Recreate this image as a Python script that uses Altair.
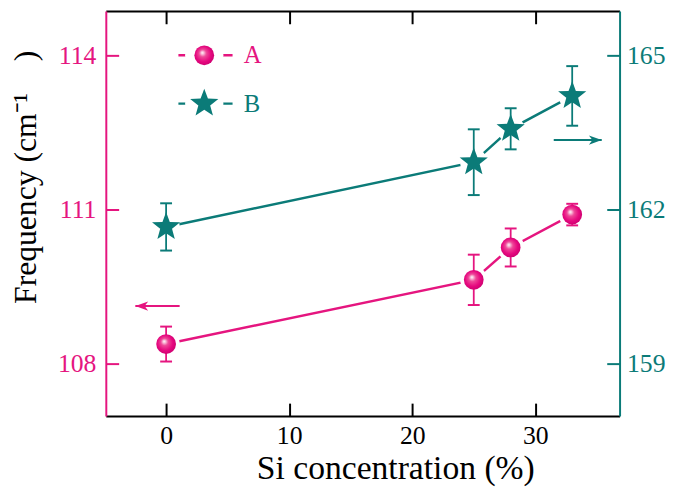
import math
import altair as alt
import pandas as pd

PINK = "#E5157F"
TEAL = "#0B7B78"
FONT = "Liberation Serif"

# ---------------- data ----------------
si = [0, 25, 28, 33]
freq_a = [108.38, 109.63, 110.26, 110.90]
err_a = [0.34, 0.49, 0.37, 0.21]
freq_b = [161.66, 162.92, 163.57, 164.21]
err_b = [0.46, 0.64, 0.40, 0.58]

x_ticks = [0, 10, 20, 30]
ya_ticks = [108, 111, 114]
yb_ticks = [159, 162, 165]
x_domain = [-4.9, 36.85]
ya_domain = [106.98, 114.865]
yb_domain = [157.98, 165.865]

legend_labels = ["A", "B"]
legend_line_x = [1.0, 5.4]
legend_marker_x = 3.1
legend_text_x = 6.3
legend_y_a = 114.0
legend_y_b = 164.06

arrow_a_x = [1.1, -2.5]   # tail, tip
arrow_a_y = 109.12
arrow_b_x = [31.5, 35.4]  # tail, tip
arrow_b_y = 163.35

W, H = 520, 410

# ---------------- frames ----------------
dfA = pd.DataFrame({"x": si, "y": freq_a,
                    "lo": [v - e for v, e in zip(freq_a, err_a)],
                    "hi": [v + e for v, e in zip(freq_a, err_a)]})
dfB = pd.DataFrame({"x": si, "y": freq_b,
                    "lo": [v - e for v, e in zip(freq_b, err_b)],
                    "hi": [v + e for v, e in zip(freq_b, err_b)]})
capsA = pd.DataFrame({"x": si + si, "y": list(dfA["lo"]) + list(dfA["hi"])})
capsB = pd.DataFrame({"x": si + si, "y": list(dfB["lo"]) + list(dfB["hi"])})

legA_marker = pd.DataFrame({"x": [legend_marker_x], "y": [legend_y_a]})
legB_marker = pd.DataFrame({"x": [legend_marker_x], "y": [legend_y_b]})
legA_line = pd.DataFrame({"x": [legend_line_x[0]], "x2": [legend_line_x[1]], "y": [legend_y_a]})
legB_line = pd.DataFrame({"x": [legend_line_x[0]], "x2": [legend_line_x[1]], "y": [legend_y_b]})
legA_text = pd.DataFrame({"x": [legend_text_x], "y": [legend_y_a], "label": [legend_labels[0]]})
legB_text = pd.DataFrame({"x": [legend_text_x], "y": [legend_y_b], "label": [legend_labels[1]]})

arrA_line = pd.DataFrame({"x": [arrow_a_x[0]], "x2": [arrow_a_x[1]], "y": [arrow_a_y]})
arrB_line = pd.DataFrame({"x": [arrow_b_x[0]], "x2": [arrow_b_x[1]], "y": [arrow_b_y]})
arrA_head = pd.DataFrame({"x": [arrow_a_x[1]], "y": [arrow_a_y]})
arrB_head = pd.DataFrame({"x": [arrow_b_x[1]], "y": [arrow_b_y]})

# ---------------- scales / axes ----------------
xs = alt.Scale(domain=x_domain, nice=False, zero=False)
ysA = alt.Scale(domain=ya_domain, nice=False, zero=False)
ysB = alt.Scale(domain=yb_domain, nice=False, zero=False)

ax_bottom = alt.Axis(orient="bottom", values=x_ticks, ticks=False, tickSize=0,
                     domainColor="black", domainWidth=2, labelColor="black",
                     labelFontSize=26, labelFont=FONT, labelPadding=7,
                     title="Si concentration (%)", titleFont=FONT, titleFontSize=34,
                     titleFontWeight="normal", titleColor="black",
                     titleX=293, titleY=63, titleBaseline="alphabetic", grid=False)
ax_left = alt.Axis(orient="left", values=ya_ticks, ticks=False, tickSize=0,
                   domainColor=PINK, domainWidth=2, labelColor=PINK,
                   labelFontSize=26, labelFont=FONT, labelPadding=10,
                   title="Frequency (cm⁻¹\u2003)", titleFont=FONT, titleFontSize=32,
                   titleFontWeight="normal", titleColor="black",
                   titleX=-81, titleY=168, titleBaseline="middle", grid=False)
ax_top = alt.Axis(orient="top", values=x_ticks, ticks=False, tickSize=0, labels=False,
                  domainColor="black", domainWidth=2, title=None, grid=False)
ax_right = alt.Axis(orient="right", values=yb_ticks, ticks=False, tickSize=0,
                    domainColor=TEAL, domainWidth=2, labelColor=TEAL,
                    labelFontSize=26, labelFont=FONT, labelPadding=7,
                    title=None, grid=False)

# inward tick axes
tick_x_bottom = alt.Axis(orient="top", offset=-H, values=x_ticks, ticks=True, tickSize=13,
                         tickWidth=2, tickColor="black", labels=False, domain=False,
                         title=None, grid=False)
tick_x_top = alt.Axis(orient="bottom", offset=-H, values=x_ticks, ticks=True, tickSize=13,
                      tickWidth=2, tickColor="black", labels=False, domain=False,
                      title=None, grid=False)
tick_y_left = alt.Axis(orient="right", offset=-W, values=ya_ticks, ticks=True, tickSize=13,
                       tickWidth=2, tickColor=PINK, labels=False, domain=False,
                       title=None, grid=False)
tick_y_right = alt.Axis(orient="left", offset=-W, values=yb_ticks, ticks=True, tickSize=13,
                        tickWidth=2, tickColor=TEAL, labels=False, domain=False,
                        title=None, grid=False)

# ---------------- shapes ----------------
pts = []
for k in range(10):
    ang = math.radians(-90 + 36 * k)
    r = 1.0 if k % 2 == 0 else 0.42
    pts.append(f"{r * math.cos(ang):.4f},{r * math.sin(ang):.4f}")
STAR = "M" + "L".join(pts) + "Z"
HEAD_LEFT = "M0,0L1,-0.36L0.72,0L1,0.36Z"
HEAD_RIGHT = "M0,0L-1,-0.36L-0.72,0L-1,0.36Z"

sphere = alt.RadialGradient(
    gradient="radial",
    stops=[alt.GradientStop(color="#ffffff", offset=0),
           alt.GradientStop(color="#f9c3dc", offset=0.12),
           alt.GradientStop(color="#ee4898", offset=0.33),
           alt.GradientStop(color="#e6087f", offset=0.7),
           alt.GradientStop(color="#cc006f", offset=1)],
    x1=0.4, y1=0.36, r1=0, x2=0.47, y2=0.47, r2=0.56)


def group(df, caps, leg_marker, leg_line, leg_text, arr_line, arr_head,
          ys, xaxis, yaxis, color, marker_shape, marker_fill, marker_size, head):
    X = alt.X("x:Q", scale=xs, axis=xaxis)
    Y = alt.Y("y:Q", scale=ys, axis=yaxis)
    line = alt.Chart(df).mark_line(color=color, strokeWidth=2.5).encode(x=X, y=Y, order="x:Q")
    lline = alt.Chart(leg_line).mark_rule(color=color, strokeWidth=2.5).encode(x=X, x2="x2:Q", y=Y)
    aline = alt.Chart(arr_line).mark_rule(color=color, strokeWidth=2).encode(x=X, x2="x2:Q", y=Y)
    halo = alt.Chart(df).mark_point(shape="circle", filled=True, color="white", opacity=1,
                                    size=760).encode(x=X, y=Y)
    lhalo = alt.Chart(leg_marker).mark_point(shape="circle", filled=True, color="white",
                                             opacity=1, size=1500).encode(x=X, y=Y)
    err = alt.Chart(df).mark_rule(color=color, strokeWidth=1.8).encode(
        x=X, y=alt.Y("lo:Q", scale=ys, axis=yaxis), y2="hi:Q")
    cap = alt.Chart(caps).mark_tick(orient="horizontal", color=color, size=12,
                                    thickness=2, opacity=1).encode(x=X, y=Y)
    ahead = alt.Chart(arr_head).mark_point(shape=head, filled=True, color=color, opacity=1,
                                           size=676, strokeWidth=0).encode(x=X, y=Y)
    mk = alt.Chart(df).mark_point(shape=marker_shape, filled=True, fill=marker_fill,
                                  opacity=1, size=marker_size, strokeWidth=0).encode(x=X, y=Y)
    lmk = alt.Chart(leg_marker).mark_point(shape=marker_shape, filled=True, fill=marker_fill,
                                           opacity=1, size=marker_size, strokeWidth=0).encode(x=X, y=Y)
    ltxt = alt.Chart(leg_text).mark_text(align="left", baseline="middle", font=FONT,
                                         fontSize=25, color=color).encode(x=X, y=Y, text="label:N")
    return alt.layer(line, lline, aline, halo, lhalo, err, cap, ahead, mk, lmk, ltxt)


gA = group(dfA, capsA, legA_marker, legA_line, legA_text, arrA_line, arrA_head,
           ysA, ax_bottom, ax_left, PINK, "circle", sphere, 400, HEAD_LEFT)
gB = group(dfB, capsB, legB_marker, legB_line, legB_text, arrB_line, arrB_head,
           ysB, ax_top, ax_right, TEAL, STAR, TEAL, 900, HEAD_RIGHT)

tA = alt.Chart(dfA).mark_point(opacity=0).encode(
    x=alt.X("x:Q", scale=xs, axis=tick_x_bottom),
    y=alt.Y("y:Q", scale=ysA, axis=tick_y_left))
tB = alt.Chart(dfB).mark_point(opacity=0).encode(
    x=alt.X("x:Q", scale=xs, axis=tick_x_top),
    y=alt.Y("y:Q", scale=ysB, axis=tick_y_right))

chart = alt.layer(gA, gB, tA, tB).resolve_scale(
    x="independent", y="independent"
).properties(
    width=W, height=H,
    autosize=alt.AutoSizeParams(type="none"),
    padding={"left": 99, "top": 0, "right": 48, "bottom": 74},
).configure_view(stroke=None).configure_axis(grid=False)

chart.save("out.html", embed_options={"renderer": "svg", "actions": False})
